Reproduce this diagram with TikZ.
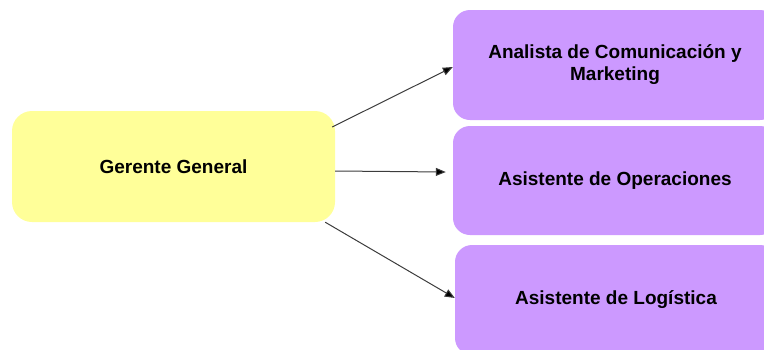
\documentclass[tikz,border=0pt]{standalone}
\usepackage{fontspec}
\setmainfont{Liberation Sans}
\usetikzlibrary{arrows.meta,calc}
\definecolor{boxyellow}{RGB}{255,255,153}
\definecolor{boxpurple}{RGB}{204,153,255}
\definecolor{linegray}{RGB}{60,60,60}
\tikzset{
  box/.style={rectangle, rounded corners=17pt, inner sep=0pt, align=center,
    font=\fontsize{19}{22}\selectfont\bfseries, text=black},
  yellowbox/.style={box, fill=boxyellow},
  purplebox/.style={box, fill=boxpurple},
  conn/.style={draw=linegray, line width=1pt, -{Triangle[length=10pt,width=8pt,fill=black]}}
}
\begin{document}
\begin{tikzpicture}[x=1pt,y=-1pt]
\useasboundingbox (0,0) rectangle (764,349);
\clip (0,0) rectangle (764,349);
\node[yellowbox, minimum width=323pt, minimum height=111pt, rounded corners=20pt] (gg) at (173.5,166.5) {Gerente General};
\node[purplebox, minimum width=324pt, minimum height=110pt] (a1) at (615,65) {Analista de Comunicación y\\Marketing};
\node[purplebox, minimum width=324pt, minimum height=109pt] (a2) at (615,180.5) {Asistente de Operaciones};
\node[purplebox, minimum width=322pt, minimum height=110pt] (a3) at (616,300) {Asistente de Logística};
\draw[conn] ($(gg.east)+(-3,-39.5)$) -- ($(a1.west)+(0,2)$);
\draw[conn] ($(gg.east)+(0,4.5)$) -- ($(a2.west)+(-7,-8.5)$);
\draw[conn] ($(gg.south east)+(-10,0)$) -- ($(a3.west)+(0,-2)$);
\end{tikzpicture}
\end{document}
